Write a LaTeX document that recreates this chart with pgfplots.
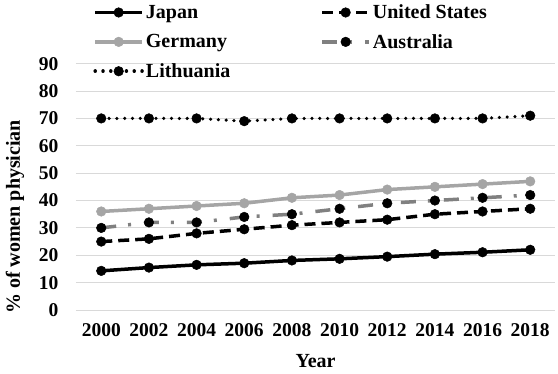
\documentclass[border=0pt]{standalone}
\usepackage{fontspec}
\setmainfont{Liberation Serif}
\usepackage{pgfplots}
\pgfplotsset{compat=1.18}
\definecolor{gerc}{RGB}{165,165,165}
\definecolor{ausc}{RGB}{128,128,128}
\definecolor{gridc}{RGB}{217,217,217}
\begin{document}
\begin{tikzpicture}
\begin{axis}[
  scale only axis, width=479pt, height=246.3pt,
  xmin=-0.53, xmax=9.52, ymin=0, ymax=90,
  ytick={0,10,...,90},
  xtick={0,...,9},
  xticklabels={2000,2002,2004,2006,2008,2010,2012,2014,2016,2018},
  ymajorgrids, major grid style={draw=gridc, line width=0.8pt},
  axis line style={draw=none}, major tick length=0pt,
  tick label style={font=\bfseries\fontsize{19.5}{22}\selectfont},
  /pgf/number format/assume math mode=true,
  yticklabel style={xshift=-14pt},
  xticklabel style={yshift=-10pt},
  xlabel={Year}, ylabel={\% of women physician},
  label style={font=\bfseries\fontsize{20}{24}\selectfont},
  xlabel style={yshift=-11pt},
  ylabel style={at={(axis description cs:-0.1273,0.378)}, anchor=center},
  clip=false,
  legend columns=2,
  legend image code/.code={\draw[mark repeat=2, mark phase=2] plot coordinates {(0pt,0pt) (23.5pt,0pt) (47pt,0pt)};},
  legend style={at={(axis description cs:0.036,1.244)}, anchor=north west,
    draw=none, fill=none, inner sep=0pt, row sep=12pt,
    font=\bfseries\fontsize{20}{22}\selectfont,
    cells={anchor=west},
    nodes={inner xsep=2pt, inner ysep=1pt},
    /tikz/every even column/.append style={column sep=88pt}},
  every axis plot/.append style={line width=3.5pt, mark size=4.8pt},
]
\addplot[black, mark=*, mark options={solid, fill=black, line width=0.5pt}] coordinates {
(0,14.3) (1,15.5) (2,16.5) (3,17.1) (4,18.1) (5,18.7) (6,19.5) (7,20.4) (8,21.1) (9,22)};
\addlegendentry{Japan}
\addplot[black, dash pattern=on 11pt off 6pt, mark=*, mark options={solid, fill=black, line width=0.5pt}] coordinates {
(0,25) (1,26) (2,28) (3,29.5) (4,31) (5,32) (6,33) (7,35) (8,36) (9,37)};
\addlegendentry{United States}
\addplot[gerc, mark=*, mark options={solid, fill=gerc, draw=gerc, line width=0.5pt}] coordinates {
(0,36) (1,37) (2,38) (3,39) (4,41) (5,42) (6,44) (7,45) (8,46) (9,47)};
\addlegendentry{Germany}
\addplot[ausc, dash pattern=on 15pt off 12pt on 3pt off 13pt, mark=*, mark options={solid, fill=black, draw=black, line width=0.5pt}] coordinates {
(0,30) (1,32) (2,32) (3,34) (4,35) (5,37) (6,39) (7,40) (8,41) (9,42)};
\addlegendentry{Australia}
\addplot[black, line cap=round, dash pattern=on 0.01pt off 7.8pt, mark=*, mark options={solid, fill=black, line width=0.5pt}] coordinates {
(0,70) (1,70) (2,70) (3,69) (4,70) (5,70) (6,70) (7,70) (8,70) (9,71)};
\addlegendentry{Lithuania}
\end{axis}
\pgfresetboundingbox
\path[use as bounding box] (-76pt,-64pt) rectangle (482pt,310pt);
\end{tikzpicture}
\end{document}
